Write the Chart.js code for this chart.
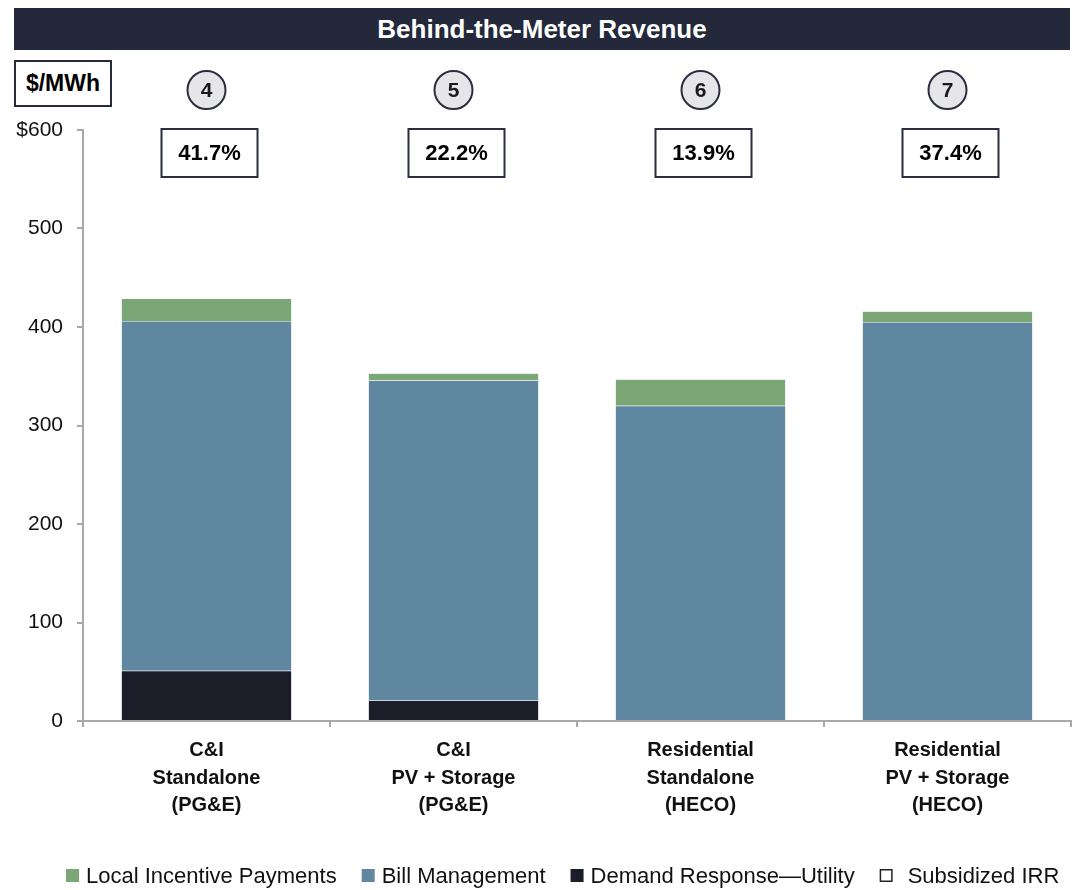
<!DOCTYPE html>
<html>
<head>
<meta charset="utf-8">
<script src="https://cdn.jsdelivr.net/npm/chart.js@4.4.1/dist/chart.umd.min.js"></script>
<style>
  html, body { margin: 0; padding: 0; background: #fff; }
  #wrap { position: relative; width: 1082px; height: 890px; }
  #title { position: absolute; left: 14px; top: 8px; width: 1056px; height: 42px; background: #23283B; color: #fff;
    font: bold 26px "Liberation Sans", Arial, sans-serif;
    display: flex; align-items: center; justify-content: center; }
  #unit { position: absolute; left: 14px; top: 60px; width: 94px; height: 43px; border: 2px solid #262A3B; background: #fff;
    font: bold 23px "Liberation Sans", Arial, sans-serif;
    display: flex; align-items: center; justify-content: center; color: #000; }
  canvas { position: absolute; left: 0; top: 0; }
</style>
</head>
<body>
<div id="wrap">
  <canvas id="c" width="1082" height="890"></canvas>
  <div id="title">Behind-the-Meter Revenue</div>
  <div id="unit">$/MWh</div>
</div>
<script>
const FONT = '"Liberation Sans", Arial, sans-serif';

const categories = [
  ["C&I", "Standalone", "(PG&E)"],
  ["C&I", "PV + Storage", "(PG&E)"],
  ["Residential", "Standalone", "(HECO)"],
  ["Residential", "PV + Storage", "(HECO)"]
];
const demandResponse = [51, 21, 0, 0];
const billManagement = [355, 325, 320, 405];
const localIncentive = [23, 7, 27, 11];
const subsidizedIRR = ["41.7%", "22.2%", "13.9%", "37.4%"];
const caseNumbers = ["4", "5", "6", "7"];
const yTicks = [0, 100, 200, 300, 400, 500, 600];
const irrLegendLabel = "Subsidized IRR";

const overlay = {
  id: 'overlay',
  afterDraw(chart) {
    const ctx = chart.ctx;
    const x = chart.scales.x;
    ctx.save();
    ctx.textAlign = 'center';
    ctx.textBaseline = 'middle';
    categories.forEach((c, i) => {
      const cx = x.getPixelForValue(i);
      ctx.beginPath();
      ctx.arc(cx, 90, 19, 0, Math.PI * 2);
      ctx.fillStyle = '#E6E6E8';
      ctx.fill();
      ctx.lineWidth = 2;
      ctx.strokeStyle = '#2A2E3E';
      ctx.stroke();
      ctx.fillStyle = '#1a1a1a';
      ctx.font = 'bold 21px ' + FONT;
      ctx.fillText(caseNumbers[i], cx, 91);
      const bx = cx + 3, w = 96, h = 48, top = 129;
      ctx.fillStyle = '#fff';
      ctx.fillRect(bx - w / 2, top, w, h);
      ctx.lineWidth = 2;
      ctx.strokeStyle = '#2A2E3E';
      ctx.strokeRect(bx - w / 2, top, w, h);
      ctx.fillStyle = '#000';
      ctx.font = 'bold 22px ' + FONT;
      ctx.fillText(subsidizedIRR[i], bx, top + h / 2 + 1);
    });

    // legend (bottom)
    const items = chart.data.datasets.map(d => ({ text: d.label, fill: d.backgroundColor, stroke: null })).reverse();
    items.push({ text: irrLegendLabel, fill: '#fff', stroke: '#222' });
    ctx.font = '22px ' + FONT;
    ctx.textAlign = 'left';
    let lx = 66;
    const ly = 876;
    items.forEach((it, i) => {
      ctx.fillStyle = it.fill;
      ctx.fillRect(lx, ly - 7, 13, 13);
      if (it.stroke) {
        ctx.lineWidth = 1.5;
        ctx.strokeStyle = it.stroke;
        ctx.strokeRect(lx + 0.75, ly - 6.25, 11.5, 11.5);
      }
      const tx = lx + 13 + (it.stroke ? 15 : 7);
      ctx.fillStyle = '#111';
      ctx.fillText(it.text, tx, ly + 1);
      lx = tx + ctx.measureText(it.text).width + 25;
    });
    ctx.restore();
  }
};

new Chart(document.getElementById('c'), {
  type: 'bar',
  data: {
    labels: categories,
    datasets: [
      { label: 'Demand Response\u2014Utility', data: demandResponse, backgroundColor: '#1B1D29', borderColor: 'rgba(255,255,255,0.35)', borderWidth: 0.5 },
      { label: 'Bill Management', data: billManagement, backgroundColor: '#5F879F', borderColor: 'rgba(255,255,255,0.35)', borderWidth: 0.5 },
      { label: 'Local Incentive Payments', data: localIncentive, backgroundColor: '#7BA777', borderColor: 'rgba(255,255,255,0.35)', borderWidth: 0.5 }
    ]
  },
  options: {
    responsive: false,
    animation: false,
    layout: { padding: { top: 130, left: 0, right: 11, bottom: 45 } },
    datasets: { bar: { categoryPercentage: 0.69, barPercentage: 1.0 } },
    scales: {
      x: {
        stacked: true,
        offset: true,
        grid: { display: true, drawOnChartArea: false, offset: true, tickLength: 6, color: '#A8A8A8', lineWidth: 2 },
        border: { display: true, color: '#A8A8A8', width: 2 },
        ticks: { color: '#111', font: { family: FONT, size: 20, weight: 'bold', lineHeight: 1.375 }, padding: 10, maxRotation: 0, autoSkip: false },
        afterFit(s) { s.height = 124; }
      },
      y: {
        stacked: true,
        min: 0, max: 600,
        afterBuildTicks(s) { s.ticks = yTicks.map(v => ({ value: v })); },
        grid: { display: true, drawOnChartArea: false, tickLength: 6, color: '#A8A8A8', lineWidth: 2 },
        border: { display: true, color: '#A8A8A8', width: 2 },
        ticks: { color: '#111', font: { family: FONT, size: 21 }, padding: 14,
          callback: (v) => v === 600 ? '$600' : String(v) },
        afterFit(s) { s.width = 83; }
      }
    },
    plugins: {
      title: { display: false },
      tooltip: { enabled: false },
      legend: { display: false }
    }
  },
  plugins: [overlay]
});
</script>
</body>
</html>
